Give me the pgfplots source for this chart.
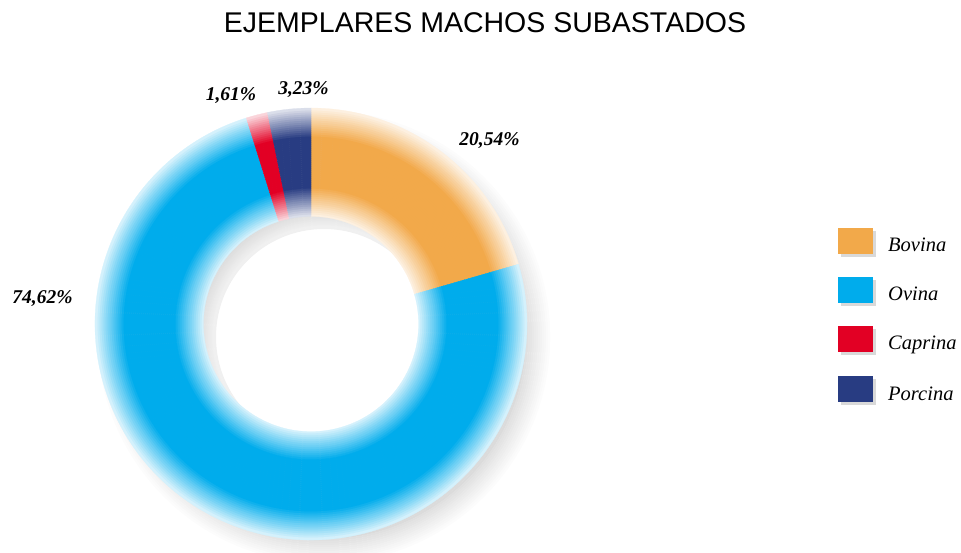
\documentclass[border=0pt]{standalone}
\usepackage{pgfplots}
\pgfplotsset{compat=1.18}
\usepackage{pgfplotstable}
\usepackage{fontspec}
\setmainfont{Liberation Serif}
\newfontfamily\titlefont{Liberation Sans}
\definecolor{cBov}{RGB}{242,169,74}
\definecolor{cOvi}{RGB}{0,172,236}
\definecolor{cCap}{RGB}{226,0,36}
\definecolor{cPor}{RGB}{40,60,130}
\pgfplotstableread{
name value
Bovina 20.54
Ovina 74.62
Caprina 1.61
Porcina 3.23
}\datatable
\begin{document}
\begin{tikzpicture}
\begin{axis}[name=ax,x=1pt,y=1pt,xmin=0,xmax=961,ymin=0,ymax=552,hide axis,clip=false]
\pgfplotsextra{
  % drop shadow
  \begin{scope}
  \clip (axis cs:0,0) rectangle (axis cs:961,552);
  \foreach \r in {108,110,...,224}{
    \pgfmathtruncatemacro\q{max(0,min(14,6+8*(\r-108)/17,14*(226-\r)/26))}
    \fill[black!\q, even odd rule] (axis cs:324,215) circle[radius=\r pt+2.3pt] (axis cs:324,215) circle[radius=\r pt];
  }
  \end{scope}
  % donut
  \gdef\angA{90}
  \foreach \i/\col in {0/cBov,1/cOvi,2/cCap,3/cPor}{
    \pgfplotstablegetelem{\i}{value}\of\datatable
    \pgfmathsetmacro\angB{\angA-3.6*\pgfplotsretval}
    \foreach \r in {108,110,...,214}{
      \pgfmathsetmacro\rm{\r+1}
      \pgfmathtruncatemacro\p{max(15,min(100,15+85*(\rm-108)/29,100-85*(\rm-187)/29))}
      \pgfmathsetmacro\ra{\r-0.4}
      \pgfmathsetmacro\rb{\r+2}
      \pgfmathsetmacro\dr{\rb-\ra}
      \filldraw[fill=\col!\p!white, draw=\col!\p!white, line width=0.25pt]
        (axis cs:311,228) ++(\angA:\ra pt) arc[start angle=\angA, end angle=\angB, radius=\ra pt]
        -- ++(\angB:\dr pt) arc[start angle=\angB, end angle=\angA, radius=\rb pt] -- cycle;
    }
    \xdef\angA{\angB}
  }
}
% title
\node[anchor=base, font=\titlefont\fontsize{28.5}{30}\selectfont] at (axis cs:485,519) {EJEMPLARES MACHOS SUBASTADOS};
% value labels
\node[anchor=base, font=\bfseries\itshape\fontsize{19.5}{20}\selectfont] at (axis cs:489.5,406) {20,54\%};
\node[anchor=base, font=\bfseries\itshape\fontsize{19.5}{20}\selectfont] at (axis cs:42.5,248) {74,62\%};
\node[anchor=base, font=\bfseries\itshape\fontsize{19.5}{20}\selectfont] at (axis cs:231,451) {1,61\%};
\node[anchor=base, font=\bfseries\itshape\fontsize{19.5}{20}\selectfont] at (axis cs:303.5,457) {3,23\%};
% legend
\foreach \yy/\col/\txt in {324/cBov/Bovina,275/cOvi/Ovina,226/cCap/Caprina,176/cPor/Porcina}{
  \edef\tmp{\noexpand\fill[black!15] (axis cs:841,\yy-29) rectangle (axis cs:876,\yy-3);
    \noexpand\fill[\col] (axis cs:838,\yy-26) rectangle (axis cs:873,\yy);
    \noexpand\node[anchor=base west, font=\noexpand\itshape\noexpand\fontsize{20.5}{21}\noexpand\selectfont, inner sep=0pt] at (axis cs:888,\yy-26+2) {\txt};}
  \tmp
}
\end{axis}
\pgfresetboundingbox
\path (ax.south west) rectangle (ax.north east);
\end{tikzpicture}
\end{document}
